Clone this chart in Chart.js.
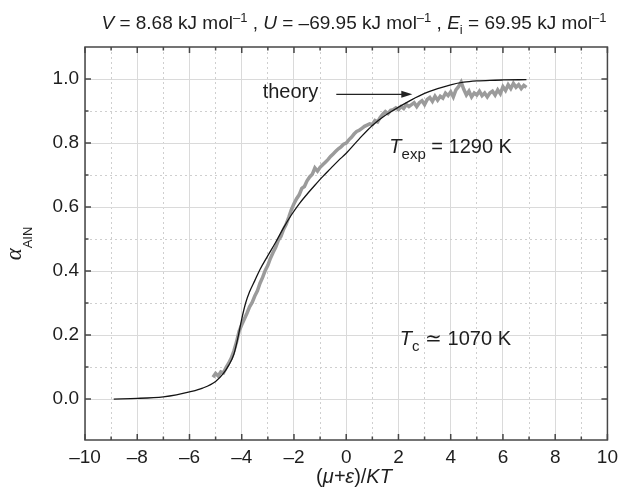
<!DOCTYPE html>
<html>
<head>
<meta charset="utf-8">
<script src="https://cdn.jsdelivr.net/npm/chart.js@4"></script>
<style>
  html, body { margin: 0; padding: 0; background: #fff; }
</style>
</head>
<body>
<canvas id="chart" width="624" height="488"></canvas>
<script>
// theory curve
const theoryX = [-8.9, -8.0, -7.0, -6.5, -6.0, -5.5, -5.0, -4.7, -4.5, -4.3, -4.15, -4.0, -3.85, -3.7, -3.5, -3.3, -3.0, -2.7, -2.4, -2.1, -1.8, -1.5, -1.2, -0.9, -0.6, -0.3, 0.0, 0.5, 1.0, 1.5, 2.0, 2.5, 3.0, 3.5, 4.0, 4.5, 5.0, 5.5, 6.0, 6.9];
const theoryY = [0.000, 0.002, 0.007, 0.013, 0.022, 0.034, 0.055, 0.080, 0.105, 0.140, 0.190, 0.250, 0.300, 0.335, 0.370, 0.405, 0.448, 0.490, 0.535, 0.575, 0.610, 0.640, 0.668, 0.695, 0.720, 0.745, 0.768, 0.813, 0.855, 0.887, 0.912, 0.935, 0.955, 0.970, 0.982, 0.990, 0.994, 0.996, 0.997, 0.998];

// measured curve (grey, noisy)
const expX = [-5.1, -5.0, -4.9, -4.8, -4.7, -4.6, -4.5, -4.4, -4.3, -4.2, -4.1, -4.0, -3.9, -3.8, -3.7, -3.6, -3.5, -3.4, -3.3, -3.2, -3.1, -3.0, -2.9, -2.8, -2.7, -2.6, -2.5, -2.4, -2.3, -2.2, -2.1, -2.0, -1.9, -1.8, -1.7, -1.6, -1.5, -1.4, -1.3, -1.2, -1.1, -1.0, -0.9, -0.8, -0.7, -0.6, -0.5, -0.4, -0.3, -0.2, -0.1, 0.0,
  0.1, 0.2, 0.3, 0.4, 0.5, 0.6, 0.7, 0.8, 0.9, 1.0, 1.1, 1.2, 1.3, 1.4, 1.5, 1.6, 1.7, 1.8, 1.9, 2.0, 2.1, 2.2, 2.3, 2.4, 2.5, 2.6, 2.7, 2.8, 2.9, 3.0, 3.1, 3.2, 3.3, 3.4, 3.5, 3.6, 3.7, 3.8, 3.9, 4.0, 4.1, 4.2, 4.3, 4.4, 4.5, 4.6, 4.7, 4.8, 4.9, 5.0, 5.1, 5.2, 5.3, 5.4, 5.5, 5.6, 5.7, 5.8, 5.9, 6.0, 6.1, 6.2, 6.3, 6.4, 6.5, 6.6, 6.7, 6.8, 6.9];
const expY = [0.068, 0.080, 0.072, 0.085, 0.082, 0.098, 0.112, 0.128, 0.150, 0.178, 0.212, 0.232, 0.250, 0.268, 0.288, 0.302, 0.322, 0.338, 0.362, 0.380, 0.402, 0.418, 0.440, 0.458, 0.474, 0.496, 0.508, 0.530, 0.546, 0.568, 0.592, 0.610, 0.626, 0.638, 0.658, 0.664, 0.682, 0.694, 0.702, 0.722, 0.712, 0.724, 0.732, 0.740, 0.748, 0.758, 0.766, 0.774, 0.782, 0.788, 0.796, 0.800,
  0.810, 0.818, 0.828, 0.836, 0.840, 0.846, 0.852, 0.856, 0.860, 0.858, 0.870, 0.866, 0.880, 0.890, 0.898, 0.892, 0.902, 0.904, 0.910, 0.904, 0.914, 0.908, 0.920, 0.914, 0.920, 0.926, 0.914, 0.926, 0.932, 0.920, 0.936, 0.942, 0.930, 0.946, 0.934, 0.946, 0.940, 0.956, 0.948, 0.960, 0.944, 0.966, 0.976, 0.990, 0.968, 0.950, 0.962, 0.944, 0.956, 0.950, 0.962, 0.948, 0.956, 0.944, 0.956, 0.962, 0.950, 0.966, 0.954, 0.976, 0.964, 0.982, 0.970, 0.986, 0.974, 0.982, 0.970, 0.980, 0.974];

const xTicks = [-10, -9, -8, -7, -6, -5, -4, -3, -2, -1, 0, 1, 2, 3, 4, 5, 6, 7, 8, 9, 10];
const yTicks = [0, 0.1, 0.2, 0.3, 0.4, 0.5, 0.6, 0.7, 0.8, 0.9, 1.0];

const SANS = "'Liberation Sans', Arial, sans-serif";
const TXT = "#1e1e1e";

function isMajorX(v) { return Math.abs(Math.round(v)) % 2 === 0; }
function isMajorY(v) { return Math.round(v * 10) % 2 === 0; }

// draw a row of text pieces with different fonts / offsets
function drawRuns(ctx, runs, x, y, align) {
  let total = 0;
  runs.forEach(r => { ctx.font = r.font; r.w = ctx.measureText(r.t).width; total += r.w; });
  let cx = align === "center" ? x - total / 2 : (align === "right" ? x - total : x);
  ctx.textAlign = "left";
  ctx.textBaseline = "alphabetic";
  runs.forEach(r => {
    ctx.font = r.font;
    ctx.fillText(r.t, cx, y + (r.dy || 0));
    cx += r.w;
  });
}

const decor = {
  id: "decor",
  afterDraw(chart) {
    const ctx = chart.ctx;
    const a = chart.chartArea;
    const xs = chart.scales.x, ys = chart.scales.y;
    ctx.save();

    // frame
    ctx.strokeStyle = "#474747";
    ctx.lineWidth = 1.5;
    ctx.strokeRect(a.left, a.top, a.right - a.left, a.bottom - a.top);

    // inward ticks on all four sides
    ctx.lineWidth = 1.5;
    ctx.beginPath();
    xTicks.forEach(v => {
      const p = xs.getPixelForValue(v);
      const len = isMajorX(v) ? 6 : 3.5;
      ctx.moveTo(p, a.bottom); ctx.lineTo(p, a.bottom - len);
      ctx.moveTo(p, a.top); ctx.lineTo(p, a.top + len);
    });
    yTicks.forEach(v => {
      const p = ys.getPixelForValue(v);
      const len = isMajorY(v) ? 6 : 3.5;
      ctx.moveTo(a.left, p); ctx.lineTo(a.left + len, p);
      ctx.moveTo(a.right, p); ctx.lineTo(a.right - len, p);
    });
    ctx.stroke();

    ctx.fillStyle = TXT;
    const n = s => s + "px " + SANS;
    const it = s => "italic " + s + "px " + SANS;

    // title
    drawRuns(ctx, [
      { t: "V", font: it(19) }, { t: " = 8.68 kJ mol", font: n(19) }, { t: "\u20131", font: n(13), dy: -7 },
      { t: " , ", font: n(19) },
      { t: "U", font: it(19) }, { t: " = \u201369.95 kJ mol", font: n(19) }, { t: "\u20131", font: n(13), dy: -7 },
      { t: " , ", font: n(19) },
      { t: "E", font: it(19) }, { t: "i", font: n(13), dy: 5 }, { t: " = 69.95 kJ mol", font: n(19) }, { t: "\u20131", font: n(13), dy: -7 }
    ], 354, 29, "center");

    // x axis title
    drawRuns(ctx, [
      { t: "(", font: n(20) }, { t: "\u03bc+\u03b5", font: it(20) }, { t: ")/", font: n(20) }, { t: "KT", font: it(20) }
    ], 354, 483, "center");

    // y axis title, rotated
    ctx.save();
    ctx.translate(21, (a.top + a.bottom) / 2);
    ctx.rotate(-Math.PI / 2);
    drawRuns(ctx, [
      { t: "\u03b1", font: "italic 23px 'Liberation Serif', serif" },
      { t: "AIN", font: n(13), dy: 11 }
    ], 0, 0, "center");
    ctx.restore();

    // "theory" label with arrow
    ctx.font = n(20);
    ctx.textAlign = "right";
    ctx.textBaseline = "middle";
    ctx.fillText("theory", xs.getPixelForValue(-1.07), ys.getPixelForValue(0.957));
    const ay = ys.getPixelForValue(0.952);
    const ax0 = xs.getPixelForValue(-0.38), ax1 = xs.getPixelForValue(2.53);
    ctx.strokeStyle = "#222";
    ctx.lineWidth = 1.3;
    ctx.beginPath(); ctx.moveTo(ax0, ay); ctx.lineTo(ax1 - 8, ay); ctx.stroke();
    ctx.fillStyle = "#222";
    ctx.beginPath(); ctx.moveTo(ax1, ay); ctx.lineTo(ax1 - 11, ay - 3.5); ctx.lineTo(ax1 - 11, ay + 3.5); ctx.closePath(); ctx.fill();

    ctx.fillStyle = TXT;
    drawRuns(ctx, [
      { t: "T", font: it(20) }, { t: "exp", font: n(15), dy: 6 }, { t: " = 1290 K", font: n(20) }
    ], xs.getPixelForValue(1.65), ys.getPixelForValue(0.769), "left");

    drawRuns(ctx, [
      { t: "T", font: it(20) }, { t: "c", font: n(15), dy: 6 }, { t: " \u2243 1070 K", font: n(20) }
    ], xs.getPixelForValue(2.05), ys.getPixelForValue(0.168), "left");

    ctx.restore();
  }
};

new Chart(document.getElementById("chart"), {
  type: "line",
  data: {
    datasets: [
      {
        label: "experiment",
        data: expX.map((x, i) => ({ x: x, y: expY[i] })),
        borderColor: "#9b9b9b",
        borderWidth: 3.5,
        pointRadius: 0,
        tension: 0,
        order: 2
      },
      {
        label: "theory",
        data: theoryX.map((x, i) => ({ x: x, y: theoryY[i] })),
        borderColor: "#151515",
        borderWidth: 1.3,
        pointRadius: 0,
        cubicInterpolationMode: "monotone",
        order: 1
      }
    ]
  },
  options: {
    responsive: false,
    animation: false,
    layout: { padding: { top: 47, right: 9, left: 0, bottom: 0 } },
    plugins: { legend: { display: false }, tooltip: { enabled: false } },
    scales: {
      x: {
        type: "linear",
        min: -10,
        max: 10,
        afterBuildTicks: s => { s.ticks = xTicks.map(v => ({ value: v })); },
        afterFit: s => { s.height = 48; },
        grid: {
          drawTicks: false,
          lineWidth: 1,
          color: c => isMajorX(c.tick.value) ? "#dadada" : "#cfcfcf"
        },
        border: {
          display: false,
          dash: c => (c.tick && !isMajorX(c.tick.value)) ? [2, 3] : []
        },
        ticks: {
          autoSkip: false,
          maxRotation: 0,
          padding: 6,
          color: TXT,
          font: { family: SANS, size: 19 },
          callback: v => isMajorX(v) ? String(v).replace("-", "\u2013") : ""
        }
      },
      y: {
        type: "linear",
        min: -0.128,
        max: 1.1,
        afterBuildTicks: s => { s.ticks = yTicks.map(v => ({ value: v })); },
        afterFit: s => { s.width = 85; },
        grid: {
          drawTicks: false,
          lineWidth: 1,
          color: c => isMajorY(c.tick.value) ? "#dadada" : "#cfcfcf"
        },
        border: {
          display: false,
          dash: c => (c.tick && !isMajorY(c.tick.value)) ? [2, 3] : []
        },
        ticks: {
          padding: 6,
          color: TXT,
          font: { family: SANS, size: 19 },
          callback: v => isMajorY(v) ? v.toFixed(1) : ""
        }
      }
    }
  },
  plugins: [decor]
});
</script>
</body>
</html>
